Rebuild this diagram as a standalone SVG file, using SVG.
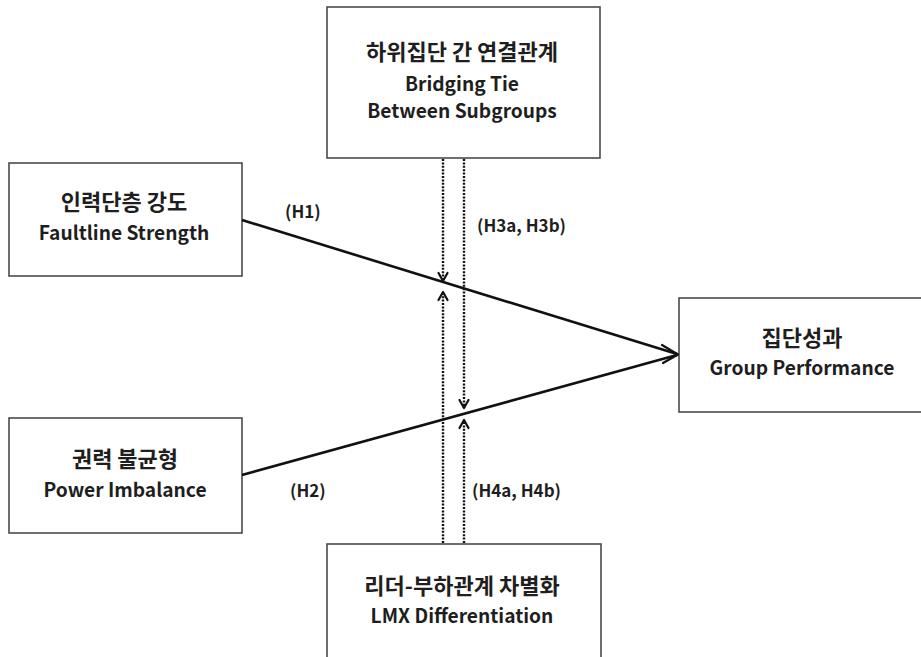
<svg xmlns="http://www.w3.org/2000/svg" width="921" height="657" viewBox="0 0 921 657">
<style>
.box{fill:#fff;stroke:#4a4a4a;stroke-width:1.6}
.t{font-family:"Noto Sans CJK KR","Noto Sans",sans-serif;font-weight:700;font-size:19.2px;fill:#1e1e1e;text-anchor:middle}
.k{font-size:22px}
.lbl{font-family:"Noto Sans CJK KR","Noto Sans",sans-serif;font-weight:700;font-size:17px;fill:#1e1e1e}
.main{stroke:#111;stroke-width:2.6;fill:none}
.dot{stroke:#111;stroke-width:2.4;fill:none;stroke-dasharray:2 1.4}
.head{stroke:#111;stroke-width:2.2;fill:none;stroke-linecap:round;stroke-linejoin:round}
</style>
<rect width="921" height="657" fill="#fff"/>
<g id="bridging">
<rect class="box" x="327" y="7" width="273" height="151"/>
<text class="t k" x="462" y="60">하위집단 간 연결관계</text>
<text class="t" x="462" y="91">Bridging Tie</text>
<text class="t" x="462" y="118">Between Subgroups</text>
</g>
<g id="faultline">
<rect class="box" x="9" y="163" width="233" height="113"/>
<text class="t k" x="124" y="210">인력단층 강도</text>
<text class="t" x="124" y="240">Faultline Strength</text>
</g>
<g id="power">
<rect class="box" x="9" y="418" width="233" height="115"/>
<text class="t k" x="125" y="467">권력 불균형</text>
<text class="t" x="125" y="497">Power Imbalance</text>
</g>
<g id="lmx">
<rect class="box" x="327" y="544" width="274" height="130"/>
<text class="t k" x="462" y="594">리더-부하관계 차별화</text>
<text class="t" x="462" y="623">LMX Differentiation</text>
</g>
<g id="performance">
<rect class="box" x="679" y="298" width="260" height="114"/>
<text class="t k" x="802" y="346">집단성과</text>
<text class="t" x="802" y="375">Group Performance</text>
</g>
<g id="connectors">
<line class="main" x1="242" y1="220" x2="677" y2="354"/>
<line class="main" x1="242" y1="475" x2="677" y2="355"/>
<polyline class="head" points="662,345 678,354.5 663,363" stroke-width="2.8"/>
<line class="dot" x1="443" y1="159" x2="443" y2="281"/>
<polyline class="head" points="438.5,273 443,281 447.5,273"/>
<line class="dot" x1="443" y1="543" x2="443" y2="292"/>
<polyline class="head" points="438.5,300 443,292 447.5,300"/>
<line class="dot" x1="464" y1="159" x2="464" y2="408"/>
<polyline class="head" points="459.5,400 464,408 468.5,400"/>
<line class="dot" x1="464" y1="543" x2="464" y2="420"/>
<polyline class="head" points="459.5,428 464,420 468.5,428"/>
<text class="lbl" x="285" y="218">(H1)</text>
<text class="lbl" x="477" y="232">(H3a, H3b)</text>
<text class="lbl" x="290" y="497">(H2)</text>
<text class="lbl" x="472" y="497">(H4a, H4b)</text>
</g>
</svg>
